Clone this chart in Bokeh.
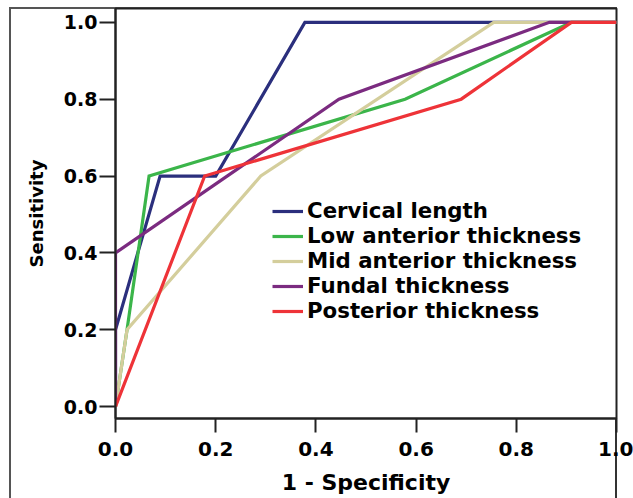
from bokeh.plotting import figure
from bokeh.models import (Range1d, FixedTicker, Legend, LegendItem,
                          CustomJSTickFormatter, InlineStyleSheet)
from bokeh.embed import file_html
from bokeh.resources import INLINE

# ---- data ----
cervical_x = [0.0, 0.0, 0.089, 0.20, 0.378, 1.0]
cervical_y = [0.0, 0.2, 0.6, 0.6, 1.0, 1.0]

low_ant_x = [0.0, 0.023, 0.067, 0.578, 0.91, 1.0]
low_ant_y = [0.0, 0.2, 0.6, 0.8, 1.0, 1.0]

mid_ant_x = [0.0, 0.023, 0.29, 0.755, 1.0]
mid_ant_y = [0.0, 0.2, 0.6, 1.0, 1.0]

fundal_x = [0.0, 0.0, 0.446, 0.866, 1.0]
fundal_y = [0.0, 0.4, 0.8, 1.0, 1.0]

posterior_x = [0.0, 0.178, 0.69, 0.91, 1.0]
posterior_y = [0.0, 0.6, 0.8, 1.0, 1.0]

series_names = ["Cervical length", "Low anterior thickness", "Mid anterior thickness",
                "Fundal thickness", "Posterior thickness"]
series_colors = ["#2b2f7d", "#3bb54a", "#d4ce9c", "#7b2b80", "#ee3338"]
tick_values = [0.0, 0.2, 0.4, 0.6, 0.8, 1.0]

FONT = "DejaVu Sans"

css = InlineStyleSheet(css="""
:host {
  background:
    linear-gradient(#555555, #555555) 9px 7px / 2px 491px no-repeat,
    linear-gradient(#555555, #555555) 9px 7px / 608px 2px no-repeat,
    linear-gradient(#333333, #333333) 615px 7px / 2px 491px no-repeat,
    white;
}
""")

p = figure(width=633, height=498, output_backend="svg", toolbar_location=None,
           x_range=Range1d(0.0, 1.0), y_range=Range1d(-0.031, 1.036),
           min_border_left=115, min_border_right=17, min_border_top=8, min_border_bottom=80,
           stylesheets=[css])
p.background_fill_color = "white"
p.border_fill_alpha = 0
p.grid.visible = False
p.outline_line_color = "#222222"
p.outline_line_width = 2

for ax in (p.xaxis[0], p.yaxis[0]):
    ax.ticker = FixedTicker(ticks=tick_values)
    ax.minor_tick_line_color = None
    ax.major_tick_in = 0
    ax.major_tick_out = 14
    ax.major_tick_line_color = "#222222"
    ax.major_tick_line_width = 2
    ax.axis_line_color = "#222222"
    ax.axis_line_width = 2
    ax.major_label_text_font = FONT
    ax.major_label_text_font_style = "bold"
    ax.major_label_text_color = "black"
    ax.axis_label_text_font = FONT
    ax.axis_label_text_font_style = "bold"
    ax.axis_label_text_color = "black"

fmt = CustomJSTickFormatter(code="return tick.toFixed(1);")
p.xaxis[0].formatter = fmt
p.yaxis[0].formatter = fmt
p.xaxis[0].major_label_text_font_size = "20px"
p.yaxis[0].major_label_text_font_size = "19px"
p.yaxis[0].major_tick_out = 16
p.xaxis[0].axis_label = "1 - Specificity"
p.yaxis[0].axis_label = "Sensitivity"
p.xaxis[0].major_label_standoff = 9
p.yaxis[0].major_label_standoff = 2
p.xaxis[0].axis_label_standoff = 11
p.yaxis[0].axis_label_standoff = 14
p.xaxis[0].axis_label_text_font_size = "22px"
p.yaxis[0].axis_label_text_font = FONT
p.yaxis[0].axis_label_text_font_style = "bold"
p.yaxis[0].axis_label_text_font_size = "18px"

xs = [cervical_x, low_ant_x, mid_ant_x, fundal_x, posterior_x]
ys = [cervical_y, low_ant_y, mid_ant_y, fundal_y, posterior_y]
items = []
for name, c, x, y in zip(series_names, series_colors, xs, ys):
    r = p.line(x, y, line_color=c, line_width=3.2, line_join="miter")
    items.append(LegendItem(label=name, renderers=[r]))

legend = Legend(items=items, location=(157, 95), padding=0, margin=0, spacing=0,
                glyph_width=31, glyph_height=24, label_height=24, label_standoff=4,
                label_text_font=FONT, label_text_font_style="bold",
                label_text_font_size="21.3px", label_text_color="black",
                background_fill_alpha=0, border_line_alpha=0)
p.add_layout(legend, "center")

open("out.html", "w").write(file_html(p, INLINE))
